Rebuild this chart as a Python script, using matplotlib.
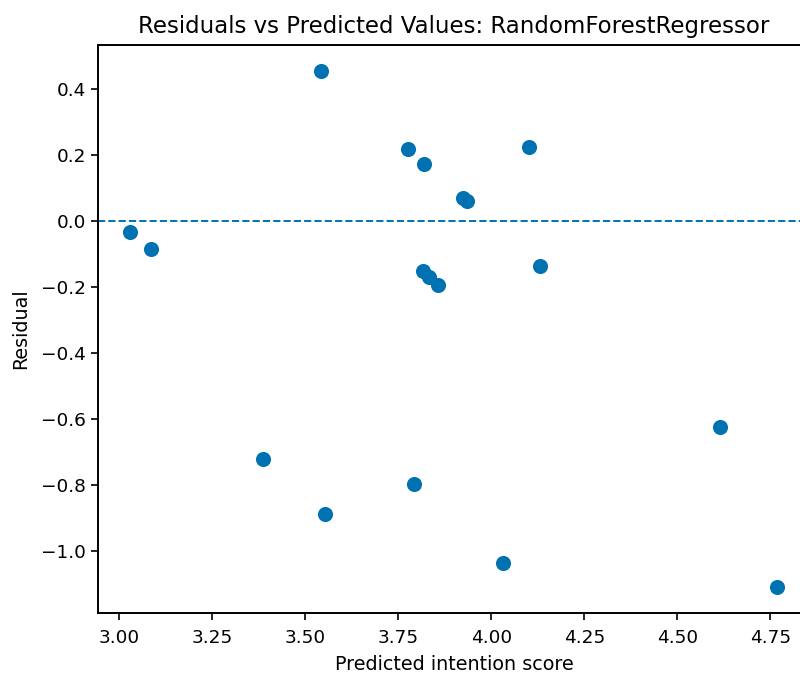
import matplotlib
matplotlib.use("Agg")
import matplotlib.pyplot as plt

# predicted scores and residuals from the random forest
predicted = [3.030, 3.086, 3.542, 3.387, 3.552, 3.776, 3.820, 3.924, 3.936,
             4.102, 3.816, 3.833, 3.857, 4.131, 3.793, 4.032, 4.616, 4.768]
residuals = [-0.035, -0.086, 0.454, -0.722, -0.888, 0.219, 0.173, 0.068, 0.060,
             0.225, -0.152, -0.169, -0.194, -0.137, -0.797, -1.038, -0.623, -1.108]

blue = "#0072B2"

fig = plt.figure(figsize=(8, 6.73), dpi=100)
# axes run slightly past the right edge of the canvas
ax = fig.add_axes([0.1225, 0.0892, 0.89, 0.8439])

ax.scatter(predicted, residuals, s=118, color=blue, linewidths=0, zorder=3)
ax.axhline(0, color=blue, linestyle="--", linewidth=1.4)

ax.set_xlim(2.943, 4.857)
ax.set_ylim(-1.188, 0.533)
ax.set_xticks([3.00, 3.25, 3.50, 3.75, 4.00, 4.25, 4.50, 4.75])
ax.set_yticks([-1.0, -0.8, -0.6, -0.4, -0.2, 0.0, 0.2, 0.4])

ax.tick_params(labelsize=13.3, length=5, width=1.2)
ax.tick_params(axis="x", pad=6.5)
for sp in ax.spines.values():
    sp.set_linewidth(1.4)

ax.set_title("Residuals vs Predicted Values: RandomForestRegressor",
             fontsize=16.5, pad=9)
ax.set_xlabel("Predicted intention score", fontsize=13.8, labelpad=6)
ax.set_ylabel("Residual", fontsize=13.8, labelpad=8)

fig.savefig("out.png", dpi=100)
